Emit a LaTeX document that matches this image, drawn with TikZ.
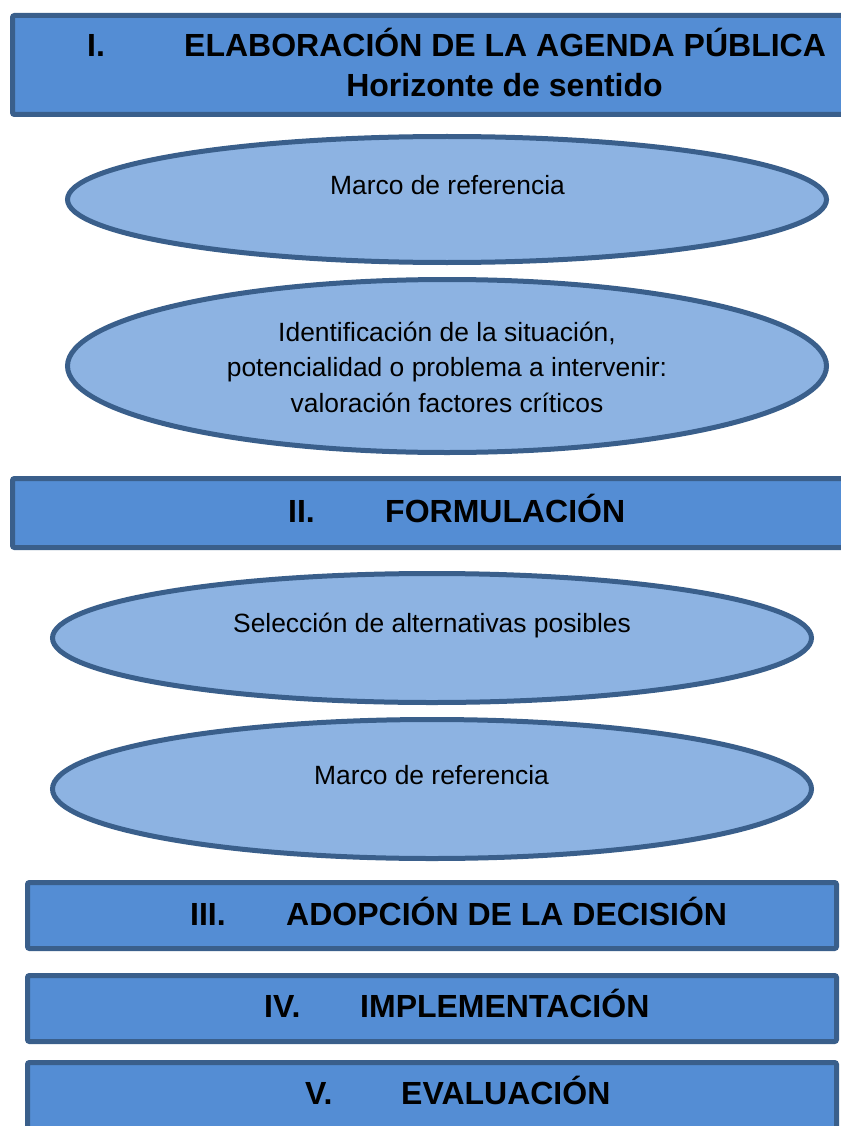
\documentclass[tikz,border=0pt]{standalone}
\usepackage{fontspec}
\setmainfont{Liberation Sans}
\usetikzlibrary{shapes.geometric}
\definecolor{edgeblue}{RGB}{58,95,139}
\definecolor{boxfill}{RGB}{84,141,212}
\definecolor{ellfill}{RGB}{141,179,226}
\begin{document}
\begin{tikzpicture}[x=1pt,y=-1pt,
  stagebox/.style={draw=edgeblue, fill=boxfill, line width=5pt, rounded corners=2pt, rectangle, inner sep=0pt},
  ellbox/.style={draw=edgeblue, fill=ellfill, line width=5pt, ellipse, inner sep=0pt, minimum width=759pt},
  titletext/.style={inner sep=0pt, font=\fontsize{32}{40}\selectfont\bfseries},
  bodytext/.style={inner sep=0pt, align=center, font=\fontsize{26.4}{35.5}\selectfont}]
\useasboundingbox (0,0) rectangle (840,1126);
% stage boxes
\node[stagebox, minimum width=887.5pt, minimum height=99pt] (b1) at (456.25,65) {};
\node[stagebox, minimum width=887.5pt, minimum height=69pt] (b2) at (456.25,513) {};
\node[stagebox, minimum width=809pt, minimum height=66pt] (b3) at (432,915.5) {};
\node[stagebox, minimum width=809pt, minimum height=66pt] (b4) at (432,1008.5) {};
\node[stagebox, minimum width=809pt, minimum height=87.5pt] (b5) at (432,1106.25) {};
% ellipses
\node[ellbox, minimum height=126pt] (e1) at (447,199.5) {};
\node[ellbox, minimum height=173pt] (e2) at (447,366) {};
\node[ellbox, minimum height=129pt] (e3) at (432,638) {};
\node[ellbox, minimum height=139pt] (e4) at (432,789) {};
% titles
\node[titletext, anchor=base west] (n1) at (87,57) {I.};
\node[titletext, anchor=base west] (t1) at (184,57) {ELABORACIÓN DE LA AGENDA PÚBLICA};
\node[titletext, anchor=base] (t1b) at (504.5,97) {Horizonte de sentido};
\node[titletext, anchor=base west] (n2) at (288,522) {II.};
\node[titletext, anchor=base west] (t2) at (385,522) {FORMULACIÓN};
\node[titletext, anchor=base west] (n3) at (190,925) {III.};
\node[titletext, anchor=base west] (t3) at (286,925) {ADOPCIÓN DE LA DECISIÓN};
\node[titletext, anchor=base west] (n4) at (264,1017) {IV.};
\node[titletext, anchor=base west] (t4) at (360,1017) {IMPLEMENTACIÓN};
\node[titletext, anchor=base west] (n5) at (305,1104) {V.};
\node[titletext, anchor=base west] (t5) at (401,1104) {EVALUACIÓN};
% ellipse texts
\node[bodytext, anchor=base] (x1) at (447.5,194) {Marco de referencia};
\node[bodytext, anchor=base] (x2) at (447,412) {Identificación de la situación,\\potencialidad o problema a intervenir:\\valoración factores críticos};
\node[bodytext, anchor=base] (x3) at (432,632) {Selección de alternativas posibles};
\node[bodytext, anchor=base] (x4) at (431.5,784) {Marco de referencia};
\end{tikzpicture}
\end{document}
